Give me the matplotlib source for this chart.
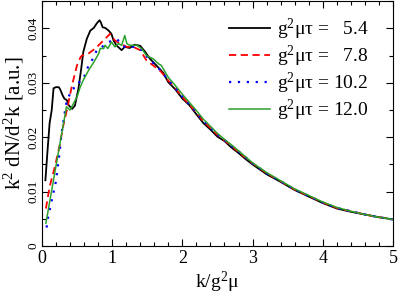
import matplotlib
matplotlib.use("Agg")
import matplotlib.pyplot as plt
from matplotlib.ticker import MultipleLocator, FuncFormatter

plt.rcParams['font.family'] = ['Liberation Serif', 'DejaVu Serif']
plt.rcParams['mathtext.fontset'] = 'custom'
plt.rcParams['mathtext.rm'] = 'Liberation Serif'
plt.rcParams['mathtext.it'] = 'Liberation Serif:italic'
plt.rcParams['mathtext.bf'] = 'Liberation Serif:bold'

# tail shared k grid
k_tail = [1.8, 1.9, 2.0, 2.1, 2.2, 2.3, 2.4, 2.5, 2.6, 2.7, 2.8, 2.9, 3.0,
          3.2, 3.4, 3.6, 3.8, 4.0, 4.2, 4.4, 4.6, 4.8, 5.0]

# g^2 mu tau = 5.4
k_54 = [0.05, 0.08, 0.11, 0.14, 0.166, 0.2, 0.24, 0.26, 0.295, 0.32, 0.356, 0.38,
        0.43, 0.47, 0.52, 0.56, 0.59, 0.64, 0.69, 0.74, 0.78, 0.82, 0.84, 0.865,
        0.90, 0.95, 0.99, 1.02, 1.06, 1.11, 1.135, 1.18, 1.25, 1.32, 1.40, 1.47,
        1.54, 1.63, 1.73] + k_tail
y_54 = [0.0121, 0.0175, 0.0226, 0.0250, 0.0290, 0.0292, 0.0292, 0.0288, 0.0277, 0.0271,
        0.0268, 0.0259, 0.0252, 0.0258, 0.0289, 0.0326, 0.0357, 0.0381, 0.0396, 0.0401,
        0.0409, 0.0415, 0.0411, 0.0402, 0.0401, 0.0396, 0.0390, 0.0378, 0.0369, 0.0363,
        0.0360, 0.0366, 0.0364, 0.0370, 0.0368, 0.0357, 0.0344, 0.0332, 0.0318,
        0.0301, 0.0288, 0.0271, 0.0259, 0.0242, 0.0226, 0.0214, 0.0201, 0.0193, 0.0181,
        0.0171, 0.0160, 0.0150, 0.0132, 0.0118, 0.0103, 0.0091, 0.0079, 0.0069, 0.0063,
        0.0058, 0.0053, 0.0049]

# g^2 mu tau = 7.8
k_78 = [0.057, 0.11, 0.185, 0.26, 0.30, 0.356, 0.43, 0.50, 0.55, 0.57, 0.665, 0.76,
        0.855, 0.925, 0.97, 0.99, 1.04, 1.11, 1.21, 1.30, 1.40, 1.49, 1.585, 1.7] + k_tail
y_78 = [0.0069, 0.0109, 0.0146, 0.0189, 0.0219, 0.0250, 0.0296, 0.0332, 0.0347, 0.0350,
        0.0354, 0.0363, 0.0375, 0.0384, 0.0390, 0.0385, 0.0378, 0.0372, 0.0366, 0.0366,
        0.0360, 0.0341, 0.0332, 0.0320,
        0.0304, 0.0290, 0.0274, 0.0260, 0.0245, 0.0229, 0.0217, 0.0204, 0.0194, 0.0184,
        0.0173, 0.0162, 0.0152, 0.0134, 0.0119, 0.0104, 0.0092, 0.0080, 0.0070, 0.0064,
        0.0058, 0.0053, 0.0049]

# g^2 mu tau = 10.2
k_102 = [0.067, 0.085, 0.14, 0.2, 0.25, 0.28, 0.32, 0.34, 0.38, 0.43, 0.50, 0.57,
         0.61, 0.665, 0.74, 0.78, 0.855, 0.95, 1.02, 1.07, 1.18, 1.27, 1.35, 1.42,
         1.54, 1.63, 1.7] + k_tail
y_102 = [0.0034, 0.0051, 0.0084, 0.0119, 0.0170, 0.0207, 0.0240, 0.0259, 0.0274, 0.0289,
         0.0292, 0.0311, 0.0313, 0.0332, 0.0347, 0.0360, 0.0366, 0.0375, 0.0378, 0.0380,
         0.0366, 0.0366, 0.0366, 0.0360, 0.0341, 0.0332, 0.0321,
         0.0305, 0.0290, 0.0275, 0.0261, 0.0246, 0.0230, 0.0218, 0.0205, 0.0195, 0.0184,
         0.0174, 0.0163, 0.0152, 0.0134, 0.0119, 0.0104, 0.0092, 0.0080, 0.0070, 0.0064,
         0.0058, 0.0053, 0.0049]

# g^2 mu tau = 12.0
k_120 = [0.057, 0.21, 0.35, 0.40, 0.45, 0.50, 0.545, 0.59, 0.665, 0.74, 0.81, 0.83,
         0.88, 0.90, 0.94, 0.99, 1.04, 1.09, 1.135, 1.18, 1.21, 1.25, 1.35, 1.42,
         1.49, 1.585, 1.66, 1.70] + k_tail
y_120 = [0.0042, 0.0154, 0.0256, 0.0250, 0.0262, 0.0274, 0.0292, 0.0305, 0.0323, 0.0338,
         0.0354, 0.0363, 0.0363, 0.0369, 0.0363, 0.0375, 0.0366, 0.0372, 0.0369, 0.0387,
         0.0372, 0.0369, 0.0369, 0.0363, 0.0350, 0.0344, 0.0335, 0.0332,
         0.0310, 0.0295, 0.0279, 0.0264, 0.0249, 0.0233, 0.0220, 0.0207, 0.0196, 0.0186,
         0.0175, 0.0164, 0.0153, 0.0135, 0.0120, 0.0105, 0.0093, 0.0081, 0.0071, 0.0064,
         0.0058, 0.0053, 0.0049]

labels = ["g$^2$\u03bc\u03c4 =   5.4", "g$^2$\u03bc\u03c4 =   7.8",
          "g$^2$\u03bc\u03c4 = 10.2", "g$^2$\u03bc\u03c4 = 12.0"]

fig = plt.figure(figsize=(3.99, 2.94), dpi=100)
ax = fig.add_axes([0.105, 0.163, 0.88, 0.833])

ax.plot(k_54, y_54, color='black', lw=1.3, label=labels[0])
ax.plot(k_78, y_78, color='red', lw=1.3, ls=(0, (4, 2.5)), label=labels[1])
ax.plot(k_102, y_102, color='blue', lw=1.6, ls=(0, (1, 3)), label=labels[2])
ax.plot(k_120, y_120, color='#2ca02c', lw=1.1, label=labels[3])

ax.set_xlim(0, 5)
ax.set_ylim(0, 0.045)
ax.xaxis.set_major_locator(MultipleLocator(1))
ax.xaxis.set_minor_locator(MultipleLocator(0.2))
ax.yaxis.set_major_locator(MultipleLocator(0.01))
ax.yaxis.set_minor_locator(MultipleLocator(0.005))
ax.yaxis.set_major_formatter(FuncFormatter(lambda v, p: "0" if v == 0 else "%.2f" % v))
ax.tick_params(which='both', direction='in', top=True, right=True)
ax.tick_params(which='major', length=5, width=0.8)
ax.tick_params(which='minor', length=3, width=0.8)
ax.tick_params(axis='x', labelsize=13, pad=3)
ax.tick_params(axis='y', labelsize=9.5, pad=2)
for t in ax.get_yticklabels():
    t.set_rotation(90)
    t.set_va('center')

ax.set_xlabel("k/g$^2$\u03bc", fontsize=14, labelpad=2)
ax.set_ylabel("k$^2$ dN/d$^2$k [a.u.]", fontsize=15, labelpad=1)

ax.legend(loc='upper right', bbox_to_anchor=(0.955, 0.969), frameon=False,
          fontsize=14, handlelength=2.15, labelspacing=0.1, handletextpad=0.36,
          borderaxespad=0)

fig.savefig("out.png", dpi=100)
